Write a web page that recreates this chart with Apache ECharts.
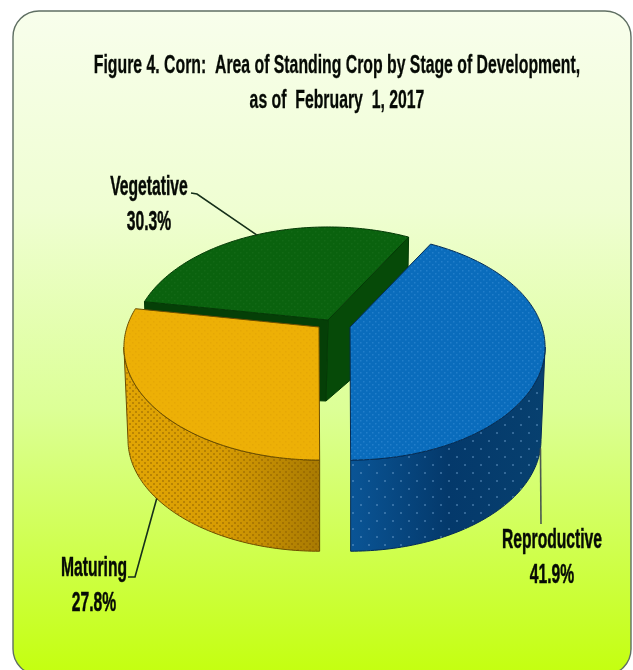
<!DOCTYPE html>
<html>
<head>
<meta charset="utf-8">
<style>html,body{margin:0;padding:0;background:#fff}#chart{width:633px;height:670px}</style>
<script src="https://cdn.jsdelivr.net/npm/echarts@6/dist/echarts.min.js"></script>
</head>
<body>
<div id="chart"></div>
<script>
// Corn standing crop by stage of development, 1 February 2017 (percent of area)
const stages = ['Vegetative', 'Maturing', 'Reproductive'];
const shares = [30.3, 27.8, 41.9];

const titleText = 'Figure 4. Corn:  Area of Standing Crop by Stage of Development,\nas of  February  1, 2017';

// Tilted disc drawn in one-point perspective
const START_DEG = 61;
const PERSPECTIVE = 0.177;
const TOP_DISC = { r: 192, s: 109.5, k: PERSPECTIVE, dy: 0 };
const BASE_DISC = { r: 188, s: 108, k: PERSPECTIVE, dy: 93 };
const CORE_DROP = 81;
const SILHOUETTE_DEG = Math.asin(PERSPECTIVE) * 180 / Math.PI;

const FONT = '"Liberation Sans", Arial, sans-serif';
const INK = '#060a05';

// Per-slice appearance: exploded apex, colours, leader and label layout
const looks = {
  Vegetative: {
    apex: [328, 320], top: '#0a620e', wallStops: ['#053f07', '#064a08'], edge: '#043a06',
    dots: 'rgba(70,150,70,0.14)',
    anchorDisc: TOP_DISC, elbow: [[197, 194], [191, 193]], label: [149, 205]
  },
  Maturing: {
    apex: [319, 327], top: '#edb006', wallStops: ['#e2a604', '#d79c03', '#a87a02'], edge: '#6b4d00',
    dots: 'rgba(205,140,0,0.22)', wallDots: 'rgba(130,85,0,0.4)', wallTile: [6, 2],
    anchorDisc: BASE_DISC, elbow: [[135, 577], [128, 577]], label: [94, 586]
  },
  Reproductive: {
    apex: [350, 327], top: '#0a6cbc', wallStops: ['#0a5596', '#04396b', '#07406f'], edge: '#052c55',
    dots: 'rgba(90,170,235,0.3)', wallDots: 'rgba(120,170,215,0.4)', wallTile: [16, 2],
    anchorDisc: BASE_DISC, elbow: [[541, 524]], label: [552, 558]
  }
};

function dotTile(color, step, size) {
  const c = document.createElement('canvas');
  c.width = step; c.height = step;
  const g = c.getContext('2d');
  g.fillStyle = color;
  g.fillRect(0, 0, size, size);
  g.fillRect(step / 2, step / 2, size, size);
  return c;
}

// Map an angle on a disc to screen position around a slice's apex
function rim(apex, disc, deg) {
  const t = deg * Math.PI / 180;
  const u = Math.cos(t), v = -Math.sin(t);
  const d = 1 - disc.k * v;
  return [apex[0] + disc.r * u / d, apex[1] + disc.dy + disc.s * v / d];
}

function arc(apex, disc, from, to) {
  const pts = [];
  const n = Math.max(2, Math.ceil(Math.abs(to - from)));
  for (let i = 0; i <= n; i++) pts.push(rim(apex, disc, from + (to - from) * i / n));
  return pts;
}

function sliceAngles(index) {
  let sum = 0;
  for (let i = 0; i < index; i++) sum += shares[i];
  const from = START_DEG + sum * 3.6;
  return [from, from + shares[index] * 3.6];
}

function renderSlice(params, api) {
  const name = stages[params.dataIndex];
  const share = api.value(0);
  const look = looks[name];
  const apex = look.apex;
  const [from, to] = sliceAngles(params.dataIndex);
  const children = [];
  const poly = (points, fill, stroke) => children.push({
    type: 'polygon', shape: { points }, silent: true,
    style: { fill, stroke: stroke || 'none', lineWidth: stroke ? 1 : 0 }
  });

  // Cut faces that point towards the viewer
  if (name === 'Vegetative') {
    const core = [apex[0] - 2, apex[1] + CORE_DROP];
    poly([apex, rim(apex, TOP_DISC, from), rim(apex, BASE_DISC, from), core], look.wallStops[1], look.edge);
    poly([apex, rim(apex, TOP_DISC, to), rim(apex, BASE_DISC, to), core], look.wallStops[0], look.edge);
  }

  // Outer wall, from one silhouette point of the disc to the other
  const wallFrom = Math.max(from, 180 + SILHOUETTE_DEG);
  const wallTo = Math.min(to, 360 - SILHOUETTE_DEG);
  if (wallTo > wallFrom) {
    const outline = arc(apex, TOP_DISC, wallFrom, wallTo)
      .concat(arc(apex, BASE_DISC, wallTo, wallFrom));
    const stops = look.wallStops.map((color, i, all) => ({ offset: i / (all.length - 1), color }));
    poly(outline, new echarts.graphic.LinearGradient(0, 0, 1, 0, stops), look.edge);
    poly(outline, { image: dotTile(look.wallDots, look.wallTile[0], look.wallTile[1]), repeat: 'repeat' });
  }

  // Top face
  const face = [apex].concat(arc(apex, TOP_DISC, from, to));
  poly(face, look.top, look.edge);
  poly(face, { image: dotTile(look.dots, 6, 1.5), repeat: 'repeat' });

  // Leader line from the middle of the slice's rim out to its label
  const anchor = rim(apex, look.anchorDisc, (from + to) / 2);
  children.push({
    type: 'polyline', silent: true,
    shape: { points: [anchor].concat(look.elbow) },
    style: { fill: 'none', stroke: name === 'Reproductive' ? '#4a5a50' : '#16301a', lineWidth: 1.6 }
  });

  children.push({
    type: 'text', silent: true, x: look.label[0], y: look.label[1], scaleX: 0.58,
    style: {
      text: name + '\n' + share.toFixed(1) + '%',
      align: 'center', verticalAlign: 'middle', lineHeight: 35,
      font: 'bold 27px ' + FONT, fill: INK, stroke: INK, lineWidth: 0.5
    }
  });
  return { type: 'group', children };
}

const chart = echarts.init(document.getElementById('chart'), null, { renderer: 'canvas' });
chart.setOption({
  animation: false,
  backgroundColor: '#ffffff',
  graphic: [{
    type: 'rect', z: -10, silent: true,
    shape: { x: 13, y: 11, width: 618, height: 664, r: 26 },
    style: {
      stroke: '#5f6f63', lineWidth: 1.4,
      fill: new echarts.graphic.LinearGradient(0, 0, 0, 1, [
        { offset: 0, color: '#f8feec' },
        { offset: 0.3, color: '#effed2' },
        { offset: 0.6, color: '#dcff96' },
        { offset: 1, color: '#c4ff0e' }
      ])
    }
  }, {
    type: 'text', z: 10, silent: true, x: 337, y: 84, scaleX: 0.632,
    style: {
      text: titleText, align: 'center', verticalAlign: 'middle', lineHeight: 35,
      font: 'bold 25px ' + FONT, fill: INK, stroke: INK, lineWidth: 0.3
    }
  }],
  series: [{
    type: 'custom',
    coordinateSystem: 'none',
    z: 5,
    renderItem: renderSlice,
    encode: { value: 0 },
    data: shares.map(v => [v])
  }]
});
</script>
</body>
</html>
